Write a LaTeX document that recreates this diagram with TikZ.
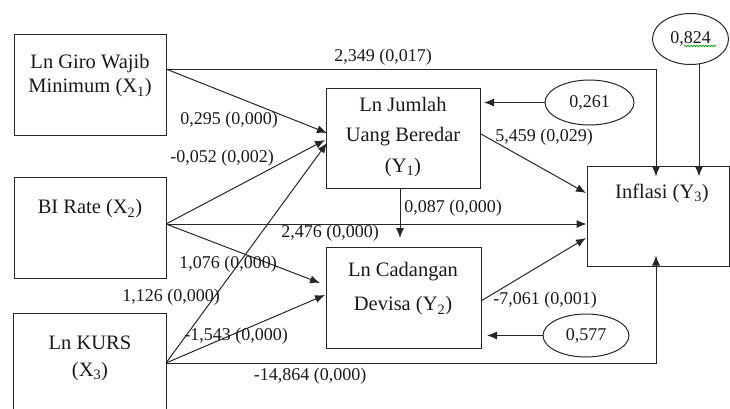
\documentclass[tikz,border=0pt]{standalone}
\usepackage{fontspec}
\setmainfont{Liberation Serif}
\usetikzlibrary{arrows.meta,shapes.geometric,decorations.pathmorphing}
\begin{document}
\begin{tikzpicture}[x=1pt,y=-1pt,
  boxshape/.style={draw=black!85,line width=1pt,inner sep=0pt,minimum width=152pt,minimum height=101pt},
  txt/.style={font=\fontsize{20.5}{#1}\selectfont,align=center,inner sep=0pt,text=black!90},
  txt/.default=27,
  lab/.style={font=\fontsize{18}{20}\selectfont,inner sep=0pt,text=black!90},
  arr/.style={-{Latex[length=10pt,width=8pt]},line width=1pt,draw=black!85},
  ell/.style={draw=black!85,line width=1pt,ellipse,inner sep=0pt,text=black!90,font=\fontsize{18}{20}\selectfont}]
\useasboundingbox (0,0) rectangle (730,408);
% boxes
\node[boxshape] (x1) at (90,85) {};
\node[boxshape] (x2) at (90,228) {};
\node[boxshape,draw=none,minimum height=94pt] (x3) at (90,361) {};
\draw[line width=1pt,draw=black!85] (x3.south west) |- (x3.north east) -- (x3.south east);
\node[boxshape,minimum width=154pt,minimum height=100pt] (y1) at (403,138) {};
\node[boxshape,minimum width=155pt,minimum height=101pt] (y2) at (403.5,297.5) {};
\node[boxshape,minimum width=142pt,minimum height=100pt] (y3) at (658,216) {};
% box texts
\node[txt=24] (x1t) at (90,76) {Ln Giro Wajib\\Minimum (X\textsubscript{1})};
\node[txt] (x2t) at (90,209) {BI Rate (X\textsubscript{2})};
\node[txt=27] (x3t) at (90,358) {Ln KURS\\(X\textsubscript{3})};
\node[txt=30.5] (y1t) at (403,137) {Ln Jumlah\\Uang Beredar\\(Y\textsubscript{1})};
\node[txt=34] (y2t) at (403,289) {Ln Cadangan\\Devisa (Y\textsubscript{2})};
\node[txt] (y3t) at (662,193) {Inflasi (Y\textsubscript{3})};
% ellipses
\node[ell,minimum width=76pt,minimum height=51pt] (e1) at (690.5,39) {0,824};
\node[ell,minimum width=89pt,minimum height=45pt] (e2) at (589.5,102.5) {0,261};
\node[ell,minimum width=86pt,minimum height=43pt] (e3) at (586,335.5) {0,577};
\draw[green!60!black,line width=0.7pt,decorate,decoration={snake,amplitude=0.8pt,segment length=3pt}] (684,46) -- (716,46);
% anchor points
\coordinate (x1o) at (166,69);
\coordinate (x2o) at (166,224);
\coordinate (x3o) at (166,363);
\coordinate (y1o) at (481,134);
\coordinate (y2o) at (481,301);
\coordinate (k1) at (656,69);
\coordinate (k3) at (656,363);
\coordinate (e1o) at (699,64);
% connectors
\draw[arr] (x1o) -- (k1) -- ([yshift=-11pt]k1 |- y3.north);
\draw[arr] (x1o) -- (327,133);
\draw[arr] (x2o) -- (325,140);
\draw[arr] (x3o) -- (327,143);
\draw[arr] (x2o) -- (x2o -| y3.west) ;
\draw[arr] (x2o) -- (320,283);
\draw[arr] (x3o) -- (325,295);
\draw[arr] (x3o) -- (k3) -- ([yshift=11pt]k3 |- y3.south);
\draw[arr] (y1o) -- (586,193);
\draw[arr] (y2o) -- (586,238);
\draw[arr] (400,188) -- (400,238);
\draw[arr] (e1o) -- ([yshift=-11pt]e1o |- y3.north);
\draw[arr] (e2.west) -- (484,102.5);
\draw[arr] (e3.west) -- (487,335.5);
% labels
\node[lab] (l1) at (383,57) {2,349 (0,017)};
\node[lab] (l2) at (229,120) {0,295 (0,000)};
\node[lab] (l3) at (222,158) {-0,052 (0,002)};
\node[lab] (l4) at (171,297) {1,126 (0,000)};
\node[lab] (l5) at (330,233) {2,476 (0,000)};
\node[lab] (l6) at (228,264) {1,076 (0,000)};
\node[lab] (l7) at (236,336) {-1,543 (0,000)};
\node[lab] (l8) at (310,376) {-14,864 (0,000)};
\node[lab] (l9) at (544,137) {5,459 (0,029)};
\node[lab] (l10) at (453,208) {0,087 (0,000)};
\node[lab] (l11) at (545,300) {-7,061 (0,001)};
\end{tikzpicture}
\end{document}
